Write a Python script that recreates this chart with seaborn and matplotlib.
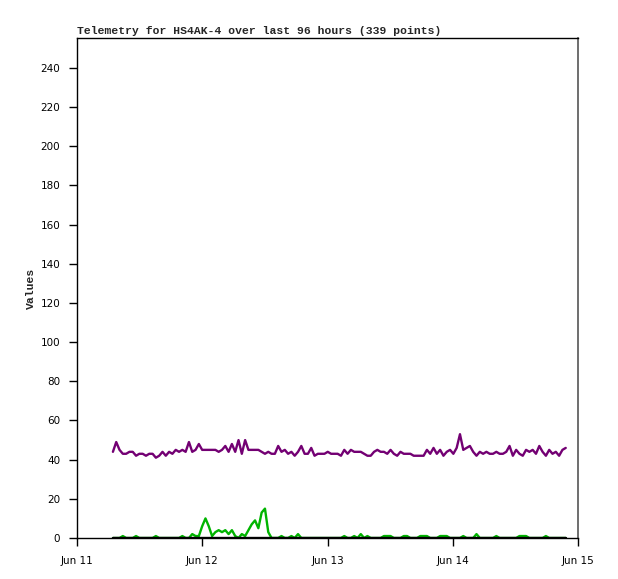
import matplotlib
matplotlib.use("Agg")
import matplotlib.pyplot as plt
import matplotlib.dates as mdates
import numpy as np
import pandas as pd
import seaborn as sns

# ---- data ----
start_time = "2024-06-11 06:53"
step = "38min"

purple_values = [
    44, 49, 45, 43, 43, 44, 44, 42, 43, 43,
    42, 43, 43, 41, 42, 44, 42, 44, 43, 45,
    44, 45, 44, 49, 44, 45, 48, 45, 45, 45,
    45, 45, 44, 45, 47, 44, 48, 44, 50, 43,
    50, 45, 45, 45, 45, 44, 43, 44, 43, 43,
    47, 44, 45, 43, 44, 42, 44, 47, 43, 43,
    46, 42, 43, 43, 43, 44, 43, 43, 43, 42,
    45, 43, 45, 44, 44, 44, 43, 42, 42, 44,
    45, 44, 44, 43, 45, 43, 42, 44, 43, 43,
    43, 42, 42, 42, 42, 45, 43, 46, 43, 45,
    42, 44, 45, 43, 46, 53, 45, 46, 47, 44,
    42, 44, 43, 44, 43, 43, 44, 43, 43, 44,
    47, 42, 45, 43, 42, 45, 44, 45, 43, 47,
    44, 42, 45, 43, 44, 42, 45, 46,
]

green_values = [
    0, 0, 0, 1, 0, 0, 0, 1, 0, 0,
    0, 0, 0, 1, 0, 0, 0, 0, 0, 0,
    0, 1, 0, 0, 2, 1, 1, 6, 10, 6,
    1, 3, 4, 3, 4, 2, 4, 1, 0, 2,
    1, 4, 7, 9, 5, 13, 15, 3, 0, 0,
    0, 1, 0, 0, 1, 0, 2, 0, 0, 0,
    0, 0, 0, 0, 0, 0, 0, 0, 0, 0,
    1, 0, 0, 1, 0, 2, 0, 1, 0, 0,
    0, 0, 1, 1, 1, 0, 0, 0, 1, 1,
    0, 0, 0, 1, 1, 1, 0, 0, 0, 1,
    1, 1, 0, 0, 0, 0, 1, 0, 0, 0,
    2, 0, 0, 0, 0, 0, 1, 0, 0, 0,
    0, 0, 0, 1, 1, 1, 0, 0, 0, 0,
    0, 1, 0, 0, 0, 0, 0, 0,
]

black_values = [0] * len(purple_values)

x_tick_labels = ["Jun 11", "Jun 12", "Jun 13", "Jun 14", "Jun 15"]
y_ticks = [0, 20, 40, 60, 80, 100, 120, 140, 160, 180, 200, 220, 240]

title = "Telemetry for HS4AK-4 over last 96 hours (339 points)"

# ---- build frame ----
times = pd.date_range(start=start_time, periods=len(purple_values), freq=step)
df = pd.DataFrame({
    "time": list(times) * 3,
    "value": purple_values + green_values + black_values,
    "series": ["purple"] * len(times) + ["green"] * len(times) + ["black"] * len(times),
})

sns.set_theme(style="white")
plt.rcParams["font.family"] = ["DejaVu Sans"]

fig = plt.figure(figsize=(6.18, 5.79), dpi=100)
ax = fig.add_axes([77 / 618, 1 - 538 / 579, 501 / 618, 500 / 579])

palette = {"purple": "#730073", "green": "#00b400", "black": "#000000"}
sns.lineplot(data=df, x="time", y="value", hue="series", palette=palette,
             hue_order=["purple", "green", "black"], linewidth=1.7,
             legend=False, ax=ax, estimator=None)

day_ticks = pd.date_range("2024-06-11", periods=5, freq="D")
ax.set_xlim(day_ticks[0], day_ticks[-1])
ax.set_xticks(day_ticks)
ax.set_xticklabels(x_tick_labels)
ax.set_ylim(0, 255.3)
ax.set_yticks(y_ticks)
ax.set_yticklabels([str(v) for v in y_ticks])

ax.tick_params(axis="both", which="major", direction="out", length=6, width=1,
               color="black", labelsize=7.5, labelcolor="black", pad=6,
               bottom=True, left=True)
ax.tick_params(axis="x", pad=7)

for side in ["left", "top", "bottom"]:
    ax.spines[side].set_color("black")
    ax.spines[side].set_linewidth(1)
ax.spines["right"].set_color("#555555")
ax.spines["right"].set_linewidth(1.2)

ax.set_xlabel("")
ax.set_ylabel("Values", family="Liberation Mono", fontweight="bold", fontsize=8.2,
              labelpad=3)
ax.set_title(title, loc="left", family="Liberation Mono", fontweight="bold",
             fontsize=8.2, pad=3)

fig.savefig("out.png", dpi=100)
